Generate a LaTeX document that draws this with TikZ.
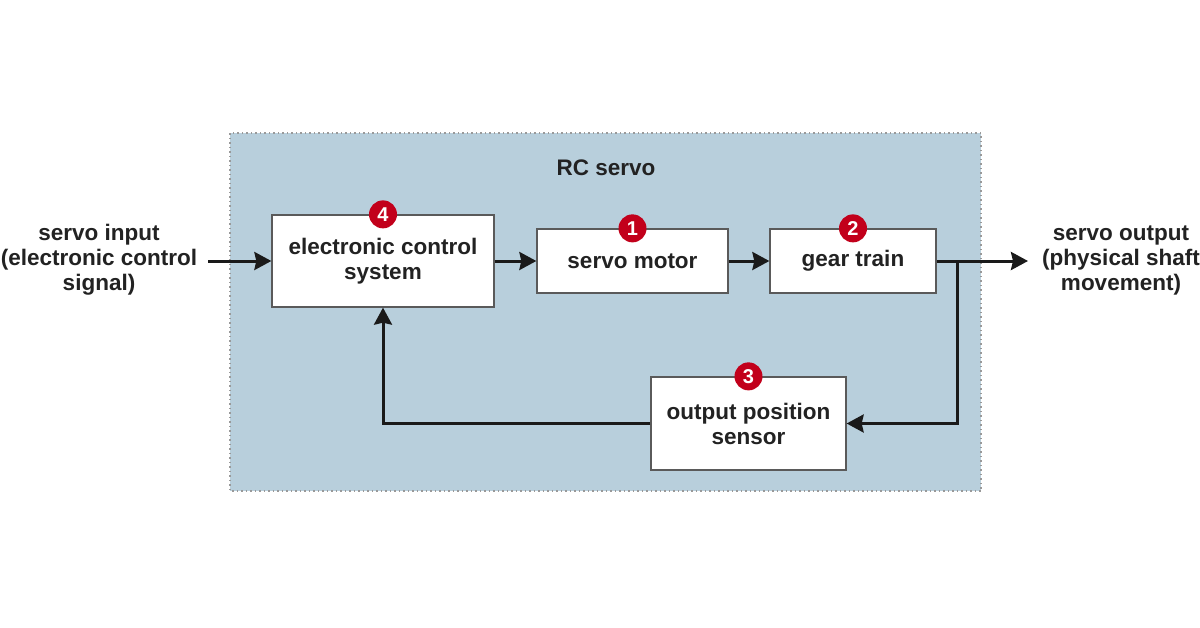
\documentclass[tikz,border=0pt]{standalone}
\usepackage{fontspec}
\setmainfont{Liberation Sans}
\usetikzlibrary{arrows.meta}
\definecolor{bgblue}{HTML}{B8CFDC}
\definecolor{badgered}{HTML}{C2001B}
\definecolor{txt}{HTML}{222222}
\definecolor{boxline}{HTML}{5A5A5A}
\definecolor{lineblk}{HTML}{1A1A1A}
\tikzset{
  lbl/.style={font=\fontsize{22.5}{25}\selectfont\bfseries, text=txt, align=center, inner sep=0pt},
  blk/.style={lbl, draw=boxline, line width=1.3pt, fill=white},
  badge/.style={circle, fill=badgered, text=white, inner sep=0pt, minimum size=28pt, font=\fontsize{20}{20}\selectfont\bfseries},
  arr/.style={line width=3pt, draw=lineblk, -{Stealth[length=17pt,width=18pt,inset=2pt]}},
  ln/.style={line width=3pt, draw=lineblk}
}
\begin{document}
\begin{tikzpicture}[x=1pt,y=-1pt]
\useasboundingbox (0,0) rectangle (1200,627);
\fill[white] (0,0) rectangle (1200,627);
\draw[fill=bgblue, draw=gray!80, line width=1.3pt, dash pattern=on 1.5pt off 3pt] (230,133) rectangle (981,491);
\node[lbl] (title) at (606,168) {RC servo};
\node[blk, minimum width=222pt, minimum height=92pt] (ecs) at (383,261) {electronic control\\system};
\node[blk, minimum width=191pt, minimum height=64pt] (sm) at (632.5,261) {servo motor};
\node[blk, minimum width=166pt, minimum height=64pt] (gt) at (853,261) {gear train};
\node[blk, minimum width=195pt, minimum height=93pt] (sen) at (748.5,423.5) {output position\\sensor};
\node[badge] (b4) at (ecs.north) {4};
\node[badge] (b1) at (sm.north) {1};
\node[badge] (b2) at (gt.north) {2};
\node[badge] (b3) at (sen.north) {3};
\node[lbl] (in) at (99,260) {servo input\\(electronic control\\signal)};
\node[lbl] (out) at (1121,260) {servo output\\(physical shaft\\movement)};
\coordinate (inS) at (208,261);
\coordinate (outE) at (1028,261);
\coordinate (j) at (957,261);
\draw[arr] (inS) -- (ecs.west);
\draw[arr] (ecs.east) -- (sm.west);
\draw[arr] (sm.east) -- (gt.west);
\draw[arr] (gt.east) -- (outE);
\draw[arr] (j) |- (sen.east);
\draw[arr] (sen.west) -| (ecs.south);
\end{tikzpicture}
\end{document}
